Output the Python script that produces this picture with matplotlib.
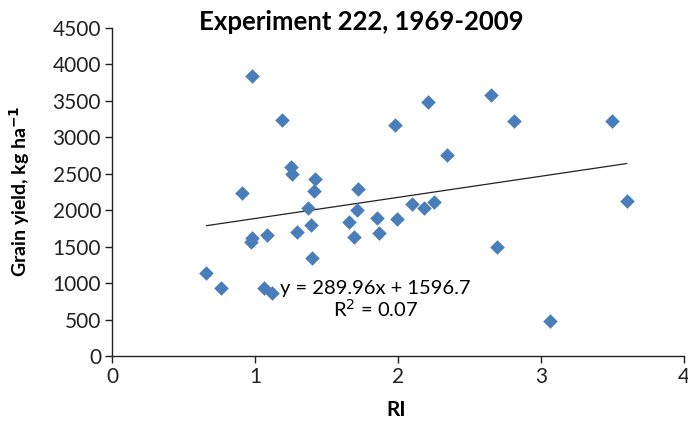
import numpy as np
import matplotlib
matplotlib.use("Agg")
import matplotlib.pyplot as plt

# RI vs grain yield
ri = [0.66, 0.76, 0.91, 0.98, 0.97, 0.98, 1.08, 1.06, 1.12, 1.19,
      1.25, 1.26, 1.29, 1.37, 1.39, 1.40, 1.42, 1.41, 1.66, 1.69,
      1.71, 1.72, 1.85, 1.87, 1.98, 1.99, 2.10, 2.18, 2.25, 2.21,
      2.34, 2.65, 2.69, 2.81, 3.06, 3.50, 3.60]
grain_yield = [1140, 935, 2235, 3840, 1565, 1615, 1660, 935, 865, 3235,
               2590, 2500, 1705, 2030, 1795, 1345, 2425, 2265, 1840, 1635,
               2005, 2290, 1895, 1690, 3170, 1880, 2085, 2035, 2115, 3485,
               2760, 3580, 1495, 3225, 480, 3225, 2125]

# linear trend as printed on the chart
slope = 289.96
intercept = 1596.7
r2 = 0.07

plt.rcParams['font.family'] = ['Lato', 'DejaVu Sans']

fig = plt.figure(figsize=(6.88, 4.25), dpi=100)
ax = fig.add_axes([0.163, 0.1624, 0.831, 0.7716])

ax.scatter(ri, grain_yield, marker='D', s=55, color='#4A7EBB', zorder=3,
           linewidths=0)

xt = np.array([min(ri), max(ri)])
ax.plot(xt, slope * xt + intercept, color='#222222', lw=0.9, zorder=2)

ax.text(1.84, 770, "y = %.2fx + %.1f\nR$^2$ = %.2f" % (slope, intercept, r2),
        ha='center', va='center', fontsize=14.5, linespacing=1.0)

ax.set_xlim(0, 4)
ax.set_ylim(0, 4500)
ax.set_xticks([0, 1, 2, 3, 4])
ax.set_yticks(range(0, 4501, 500))
ax.tick_params(labelsize=15, length=5, width=1, colors='#222222', pad=3)
for s in ['top', 'right']:
    ax.spines[s].set_visible(False)
for s in ['left', 'bottom']:
    ax.spines[s].set_linewidth(1)
    ax.spines[s].set_color('#222222')

fig.text(396 / 688, 1 - 410 / 425, 'RI', ha='center', va='center',
         fontsize=15, fontweight='bold')
fig.text(20 / 688, 1 - 191 / 425, 'Grain yield, kg ha$^{\\mathbf{-1}}$',
         rotation=90, ha='center', va='center', fontsize=14,
         fontweight='bold')
fig.text(361 / 688, 1 - 22 / 425, 'Experiment 222, 1969-2009', ha='center',
         va='center', fontsize=18.5, fontweight='bold')

fig.savefig('out.png', dpi=100)
